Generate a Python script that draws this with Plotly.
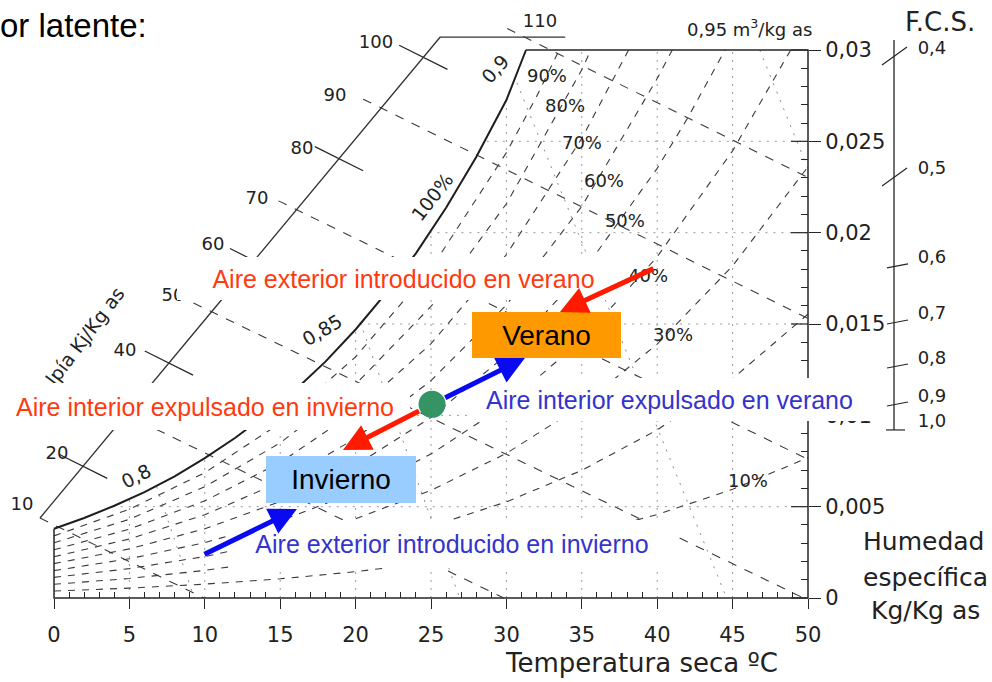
import plotly.graph_objects as go

# ---------------- chart data ----------------
temp_ticks = [0, 5, 10, 15, 20, 25, 30, 35, 40, 45, 50]
temp_minor = [t for t in range(1, 50) if t % 5 != 0]
hum_ticks = [0, 0.005, 0.01, 0.015, 0.02, 0.025, 0.03]
hum_tick_text = ["0", "0,005", "0,01", "0,015", "0,02", "0,025", "0,03"]
hum_minor = [i / 1000 for i in range(1, 30) if i % 5 != 0]

# saturation curve (100 %)
sat_T = [0, 2, 4, 6, 8, 10, 12, 14, 16, 18, 20, 22, 24, 26, 28, 30, 31.3]
sat_w = [0.00379, 0.00438, 0.00505, 0.00580, 0.00666, 0.00766, 0.00876, 0.01000,
         0.01139, 0.01294, 0.01470, 0.01667, 0.01887, 0.02136, 0.02414, 0.02726, 0.0300]

# relative humidity curves
rh90_T = [0, 5, 10, 15, 20, 25, 30, 32, 33.5]
rh90_w = [0.00340, 0.00486, 0.00686, 0.00957, 0.01320, 0.01802, 0.02438, 0.02745, 0.0300]
rh80_T = [0, 5, 10, 15, 20, 25, 30, 35, 35.6]
rh80_w = [0.00302, 0.00431, 0.00609, 0.00849, 0.01170, 0.01596, 0.02158, 0.02892, 0.0300]
rh70_T = [0, 5, 10, 15, 20, 25, 30, 35, 38.1]
rh70_w = [0.00264, 0.00377, 0.00532, 0.00741, 0.01022, 0.01392, 0.01880, 0.02516, 0.0300]
rh60_T = [0, 5, 10, 15, 20, 25, 30, 35, 40, 41]
rh60_w = [0.00226, 0.00323, 0.00456, 0.00634, 0.00874, 0.01190, 0.01604, 0.02144, 0.02844, 0.0300]
rh50_T = [0, 5, 10, 15, 20, 25, 30, 35, 40, 42, 44.5]
rh50_w = [0.00188, 0.00269, 0.00379, 0.00528, 0.00726, 0.00988, 0.01331, 0.01777, 0.02352, 0.02625, 0.0300]
rh40_T = [0, 5, 10, 15, 20, 25, 30, 35, 40, 45, 48.85]
rh40_w = [0.00150, 0.00215, 0.00303, 0.00422, 0.00580, 0.00788, 0.01060, 0.01413, 0.01868, 0.02448, 0.0300]
rh30_T = [0, 5, 10, 15, 20, 25, 30, 35, 40, 45, 50]
rh30_w = [0.00113, 0.00161, 0.00227, 0.00316, 0.00434, 0.00589, 0.00792, 0.01054, 0.01390, 0.01818, 0.02361]
rh20_T = [0, 5, 10, 15, 20, 25, 30, 35, 40, 45, 50]
rh20_w = [0.00075, 0.00107, 0.00151, 0.00210, 0.00289, 0.00392, 0.00526, 0.00699, 0.00920, 0.01201, 0.01554]
rh10_T = [0, 5, 10, 15, 20, 25, 30, 35, 40, 45, 50]
rh10_w = [0.00038, 0.00054, 0.00076, 0.00105, 0.00144, 0.00195, 0.00262, 0.00347, 0.00457, 0.00595, 0.00768]
# visible curve labels (20 % is hidden under a text box in the original)
rh_label_text = ["90%", "80%", "70%", "60%", "50%", "40%", "30%", "10%"]
rh_label_T = [32.69, 33.89, 35.01, 36.47, 37.86, 39.39, 41.05, 46.02]
rh_label_w = [0.02852, 0.02683, 0.02485, 0.02272, 0.02058, 0.01757, 0.01434, 0.00635]

# enthalpy (kJ/kg) scale and lines
enth_vals = [10, 20, 30, 40, 50, 60, 70, 80, 90, 100, 110]
enth_pt_T = [-0.93, 1.93, 4.78, 7.62, 10.45, 13.27, 16.09, 18.90, 21.70, 24.49, 31.25]
enth_pt_w = [0.00438, 0.00721, 0.01004, 0.01286, 0.01567, 0.01847, 0.02126, 0.02405, 0.02683, 0.02960, 0.03070]
enth_end_T = [9.94, None, 29.82, None, 49.70, None, 50, None, 50, None, 50]
enth_end_w = [0.0, None, 0.0, None, 0.0, None, 0.00759, None, 0.01531, None, 0.02302]
# visible enthalpy labels (30 is hidden under a text box in the original)
enth_label_text = ["10", "20", "40", "50", "60", "70", "80", "90", "100", "110"]
enth_label_T = [-2.12, 0.20, 4.71, 7.89, 10.54, 13.46, 16.45, 18.63, 21.35, 32.23]
enth_label_w = [0.00509, 0.00783, 0.01347, 0.01648, 0.01932, 0.02179, 0.02458, 0.02748, 0.03038, 0.03153]
enth_axis_T = [-0.93, 25.6, 33.9]
enth_axis_w = [0.00438, 0.0307, 0.0307]

# specific volume lines (m3/kg), dotted right of saturation
vol_vals = [0.80, 0.85, 0.90, 0.95]
vol_start_T = [6.8, 20.3, 30.7, 46.8]
vol_start_w = [0.0061, 0.0151, 0.0282, 0.0300]
vol_end_T = [9.3, 26.9, 44.6, 50.0]
vol_end_w = [0.0, 0.0, 0.0, 0.0235]

# dotted grid
grid_T = [5, 10, 15, 20, 25, 30, 35, 40, 45]
grid_T_top = [0.0054, 0.00766, 0.0107, 0.0147, 0.0201, 0.0273, 0.030, 0.030, 0.030]
grid_w = [0.005, 0.010, 0.015, 0.020, 0.025]
grid_w_left = [3.9, 14.0, 20.3, 24.9, 28.7]

# F.C.S. scale
fcs_text = ["0,4", "0,5", "0,6", "0,7", "0,8", "0,9", "1,0"]
fcs_w = [0.02967, 0.02305, 0.01818, 0.01511, 0.01270, 0.01062, 0.00920]

# process points
indoor_T, indoor_w = 25.07, 0.0106
arrow_tail_T = [39.85, 25.07, 25.07, 9.88]
arrow_tail_w = [0.01807, 0.0106, 0.0106, 0.00235]
arrow_head_T = [33.55, 31.23, 19.16, 16.11]
arrow_head_w = [0.01566, 0.01314, 0.0081, 0.00487]
arrow_color = ["#ff1a00", "#0a0af0", "#ff1a00", "#0a0af0"]
arrow_from_point = [False, True, True, False]

# ---------------- geometry helpers ----------------
W, H = 992, 682
X0PX, XS = 54.0, 15.08
Y0PX, YS = 598.0, 18266.7


def T_of(px):
    return (px - X0PX) / XS


def w_of(py):
    return (Y0PX - py) / YS


def xp(px):
    return px / W


def yp(py):
    return 1 - py / H


INK = "#262626"
fig = go.Figure()


def add_lines(xs, ys, color=INK, width=1.0, dash="solid"):
    fig.add_trace(go.Scatter(x=xs, y=ys, mode="lines",
                             line=dict(color=color, width=width, dash=dash),
                             hoverinfo="skip", showlegend=False))


# dotted grid
gx, gy = [], []
for t, top in zip(grid_T, grid_T_top):
    gx += [t, t, None]
    gy += [0, top, None]
for w, left in zip(grid_w, grid_w_left):
    gx += [left, 50, None]
    gy += [w, w, None]
add_lines(gx, gy, color="#9a9a9a", width=1, dash="2px,6px")

# specific volume dotted lines
vx, vy = [], []
for a, b, c, d in zip(vol_start_T, vol_start_w, vol_end_T, vol_end_w):
    vx += [a, c, None]
    vy += [b, d, None]
add_lines(vx, vy, color="#8a8a8a", width=1, dash="2px,7px")

# RH curves
for xs, ys in [(rh90_T, rh90_w), (rh80_T, rh80_w), (rh70_T, rh70_w), (rh60_T, rh60_w),
               (rh50_T, rh50_w), (rh40_T, rh40_w), (rh30_T, rh30_w), (rh20_T, rh20_w),
               (rh10_T, rh10_w)]:
    add_lines(xs, ys, color="#3a3a3a", width=1.1, dash="7px,7px")

# enthalpy lines (odd decades dashed, even decades short ticks)
ex, ey, tx, ty = [], [], [], []
for h, t, w, et, ew in zip(enth_vals, enth_pt_T, enth_pt_w, enth_end_T, enth_end_w):
    if et is not None:
        st = t if h == 10 else t - 1.2
        sw = w if h == 10 else w + 0.00048
        ex += [st, et, None]
        ey += [sw, ew, None]
    else:
        tx += [t - 1.6, t + 1.6, None]
        ty += [w + 0.00066, w - 0.00066, None]
add_lines(ex, ey, color="#3a3a3a", width=1.1, dash="9px,9px")
add_lines(tx, ty, color=INK, width=1.2)
add_lines(enth_axis_T, enth_axis_w, color="#333333", width=1.3)

# saturation curve
add_lines(sat_T, sat_w, color="#1e1e1e", width=2.0)

# chart frame
add_lines([sat_T[-1], 50, 50, 0, 0], [0.03, 0.03, 0, 0, sat_w[0]], color=INK, width=1.5)

# inner part of the major humidity ticks
ix, iy = [], []
for v in hum_ticks:
    ix += [T_of(791), 50, None]
    iy += [v, v, None]
add_lines(ix, iy, color=INK, width=1.2)

# F.C.S. scale
fcs_x = T_of(894)
add_lines([fcs_x, fcs_x], [w_of(40), fcs_w[-1]], color=INK, width=1.3)
fx, fy = [], []
for i, w in enumerate(fcs_w):
    if i < 2:
        fx += [T_of(882), T_of(907), None]
        fy += [w - 9 / YS, w + 9 / YS, None]
    elif i < len(fcs_w) - 1:
        fx += [T_of(887), T_of(908), None]
        fy += [w - 2 / YS, w + 2 / YS, None]
    else:
        fx += [T_of(886), T_of(905), None]
        fy += [w, w, None]
add_lines(fx, fy, color=INK, width=1.2)

LBL = dict(family="DejaVu Sans", size=18, color="#222222")
fig.add_trace(go.Scatter(x=[T_of(932)] * len(fcs_w), y=[w + 7 / YS for w in fcs_w],
                         mode="text", text=fcs_text, textfont=LBL,
                         hoverinfo="skip", showlegend=False))
fig.add_trace(go.Scatter(x=rh_label_T, y=rh_label_w, mode="text", text=rh_label_text,
                         textfont=LBL, hoverinfo="skip", showlegend=False))
fig.add_trace(go.Scatter(x=enth_label_T, y=enth_label_w, mode="text",
                         text=enth_label_text, textfont=LBL,
                         hoverinfo="skip", showlegend=False))

# indoor state point
fig.add_trace(go.Scatter(x=[indoor_T], y=[indoor_w], mode="markers",
                         marker=dict(size=27, color="#359464", line=dict(width=0)),
                         hoverinfo="skip", showlegend=False))

# ---------------- annotations ----------------
ann = []


def text_at(px, py, text, size=19, color="#222222", family="DejaVu Sans", angle=0,
            xanchor="center"):
    ann.append(dict(x=xp(px), y=yp(py), xref="paper", yref="paper", text=text,
                    showarrow=False, textangle=angle, xanchor=xanchor, yanchor="middle",
                    font=dict(family=family, size=size, color=color)))


text_at(432, 197, "100%", angle=-52)
text_at(495, 69, "0,9", angle=-48)
text_at(322, 330, "0,85", angle=-31)
text_at(136, 476, "0,8", angle=-27)
text_at(72, 353, "Entalpía Kj/Kg as", angle=-53)


def box(cx, cy, w, h, text, bg, color, size):
    ann.append(dict(x=xp(cx), y=yp(cy), xref="paper", yref="paper", text=text,
                    showarrow=False, width=w, height=h, bgcolor=bg, borderpad=0,
                    borderwidth=0, align="center", valign="middle",
                    xanchor="center", yanchor="middle",
                    font=dict(family="Liberation Sans", size=size, color=color)))


RED_TXT = "#ff3a10"
BLUE_TXT = "#3434cc"
box(403.5, 278.5, 453, 43, "Aire exterior introducido en verano", "white", RED_TXT, 25)
box(546, 335, 149, 46, "Verano", "#ff9900", "#000000", 28)
box(205, 406.5, 410, 47, "Aire interior expulsado en invierno", "white", RED_TXT, 25)
box(669.5, 399.5, 397, 43, "Aire interior expulsado en verano", "white", BLUE_TXT, 25)
box(341, 479.5, 150, 47, "Invierno", "#99ccff", "#000000", 28)
box(452, 544, 446, 48, "Aire exterior introducido en invierno", "white", BLUE_TXT, 25)

for tT, tw, hT, hw, col, fp in zip(arrow_tail_T, arrow_tail_w, arrow_head_T, arrow_head_w,
                                   arrow_color, arrow_from_point):
    ann.append(dict(x=hT, y=hw, ax=tT, ay=tw, xref="x", yref="y", axref="x", ayref="y",
                    text="", showarrow=True, arrowhead=2, arrowsize=1.1, arrowwidth=5,
                    arrowcolor=col, startstandoff=13 if fp else 0))

text_at(749, 28, "0,95 m<sup>3</sup>/kg as", size=18)
text_at(940, 22, "F.C.S.", size=26)
text_at(641, 663, "Temperatura seca ºC", size=26)
text_at(923, 541, "Humedad", size=25)
text_at(925, 577, "específica", size=25)
text_at(925, 610, "Kg/Kg as", size=25)
text_at(149, 26, "or latente:", size=33, color="#000000", family="Liberation Sans",
        xanchor="right")

TICKFONT = dict(family="DejaVu Sans", size=21, color="#222222")
fig.update_layout(
    width=W, height=H, margin=dict(l=0, r=0, t=0, b=0, pad=0),
    paper_bgcolor="white", plot_bgcolor="white",
    annotations=ann, showlegend=False,
    xaxis=dict(range=[T_of(0), T_of(W)], showgrid=False, zeroline=False, showline=False,
               anchor="free", position=yp(598), tickmode="array", tickvals=temp_ticks,
               ticktext=[str(t) for t in temp_ticks], ticks="outside", ticklen=10,
               tickwidth=1.4, tickcolor=INK, tickfont=TICKFONT, ticklabelstandoff=8,
               minor=dict(tickmode="array", tickvals=temp_minor, ticks="inside",
                          ticklen=6, tickwidth=1, tickcolor=INK, showgrid=False),
               fixedrange=True),
    yaxis=dict(range=[w_of(H), w_of(0)], showgrid=False, zeroline=False, showline=False,
               side="right", anchor="free", position=xp(808), tickmode="array",
               tickvals=hum_ticks, ticktext=hum_tick_text, ticks="outside", ticklen=12,
               tickwidth=1.2, tickcolor=INK, tickfont=TICKFONT,
               minor=dict(tickmode="array", tickvals=hum_minor, ticks="inside",
                          ticklen=7, tickwidth=1, tickcolor=INK, showgrid=False),
               fixedrange=True),
)

fig.write_html("out.html")
